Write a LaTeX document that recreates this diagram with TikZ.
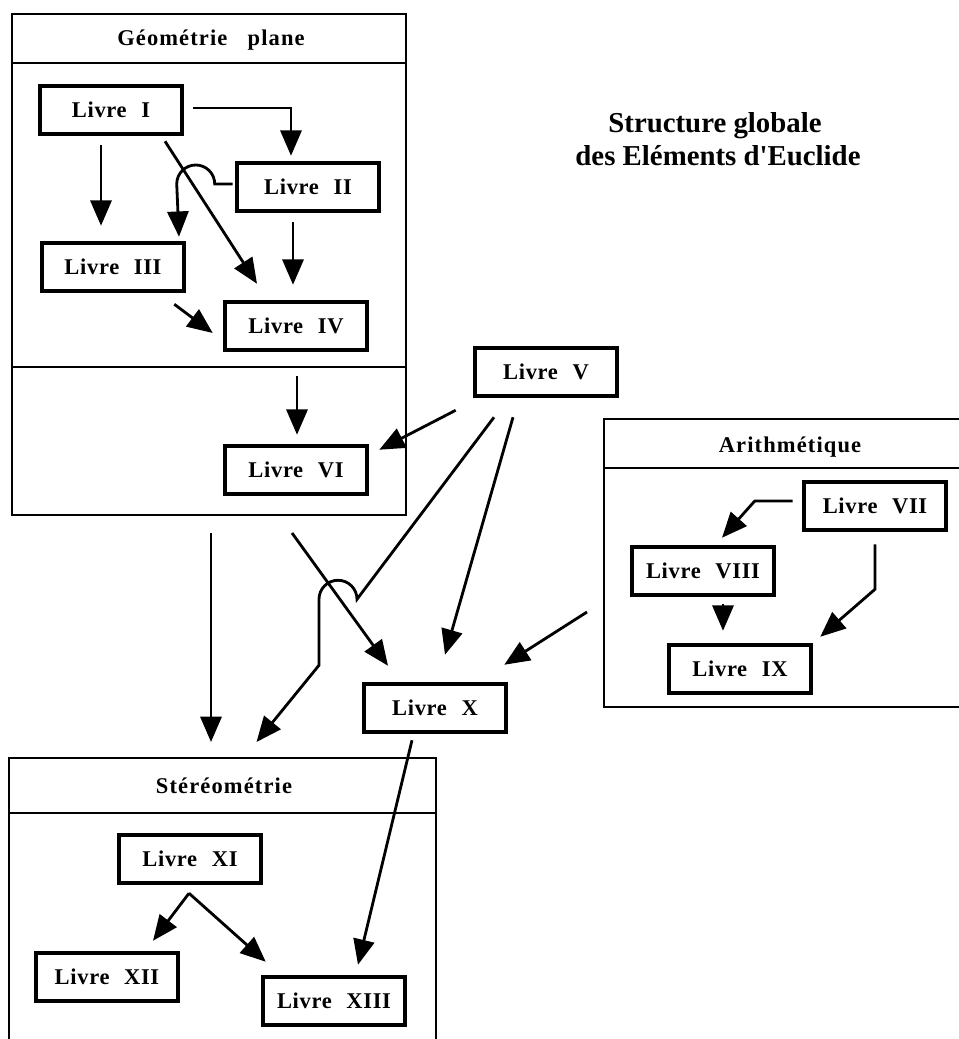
\documentclass[tikz,border=0pt]{standalone}
\usepackage{fontspec}
\setmainfont{Liberation Serif}
\usetikzlibrary{arrows.meta,calc,fit}

\begin{document}
\begin{tikzpicture}[x=0.025cm,y=-0.025cm,
  livre/.style={draw,line width=3.2pt,minimum width=3.55cm,minimum height=1.2cm,inner sep=0pt,
    font=\bfseries\fontsize{16}{19}\selectfont\addfontfeatures{LetterSpace=3}},
  part/.style={draw,line width=1.4pt,inner sep=0pt},
  parttitle/.style={font=\bfseries\fontsize{16}{19}\selectfont\addfontfeatures{LetterSpace=5}},
  link/.style={line width=2pt,-{Triangle[length=18pt,width=15pt]}},
  divline/.style={line width=1.4pt}]
\useasboundingbox (0,0) rectangle (959,1039);
\clip (0,0) rectangle (959,1039);

% Title
\node[anchor=base,font=\bfseries\fontsize{20.5}{24}\selectfont] (title1) at (715,132) {Structure globale};
\node[anchor=base,font=\bfseries\fontsize{20.5}{24}\selectfont] (title2) at (718,165) {des Eléments d\textquotesingle Euclide};

% Geometrie plane
\node[part,fit={(12,14) (406,515)}] (geo) {};
\draw[divline] (geo.west |- 0,63) -- (geo.east |- 0,63);
\coordinate (gdiv) at (12,367);
\draw[divline] (gdiv) -- (gdiv -| geo.east);
\node[parttitle] (hgeo) at (211,40) {Géométrie\hspace{0.9em}plane};
\node[livre] (g1) at (111,110) {Livre\hspace{0.65em}I};
\node[livre] (g2) at (308,187) {Livre\hspace{0.65em}II};
\node[livre] (g3) at (113,267) {Livre\hspace{0.65em}III};
\node[livre] (g4) at (296,326) {Livre\hspace{0.65em}IV};
\node[livre] (g6) at (296,470) {Livre\hspace{0.65em}VI};

% Livre V and Livre X
\node[livre] (b5) at (546,372) {Livre\hspace{0.65em}V};
\node[livre] (b10) at (435,708) {Livre\hspace{0.65em}X};

% Arithmetique
\node[part,fit={(604,419) (1000,707)}] (ari) {};
\draw[divline] (ari.west |- 0,468) -- (ari.east |- 0,468);
\node[parttitle] (hari) at (790,447) {Arithmétique};
\node[livre] (a7) at (875,506) {Livre\hspace{0.65em}VII};
\node[livre] (a8) at (703,571) {Livre\hspace{0.65em}VIII};
\node[livre] (a9) at (740,669) {Livre\hspace{0.65em}IX};

% Stereometrie
\node[part,fit={(9,758) (436,1080)}] (ste) {};
\draw[divline] (ste.west |- 0,813) -- (ste.east |- 0,813);
\node[parttitle] (hste) at (224,786) {Stéréométrie};
\node[livre] (s11) at (190,859) {Livre\hspace{0.65em}XI};
\node[livre] (s12) at (107,977) {Livre\hspace{0.65em}XII};
\node[livre] (s13) at (334,1001) {Livre\hspace{0.65em}XIII};

% inside Geometrie plane
\draw[link] ($(g1.east)+(9,-2)$) -| ($(g2.north)+(-17,-5)$);
\draw[link] ($(g1.south)+(-10,9)$) -- ($(g3.north)+(-12,-15)$);
\draw[link] ($(g1.south)+(54,5)$) -- ($(g4.north)+(-39,-16)$);
\draw[link] ($(g2.west)+(-2,-3)$) -- ++(-18,0) arc[start angle=0,end angle=-180,radius=19]
  -- ($(g3.north)+(66,-4)$);
\draw[link] ($(g2.south)+(-15,9)$) -- ($(g4.north)+(-3,-15)$);
\draw[link] ($(g3.south east)+(-12,11)$) -- ($(g4.west)+(-10,7)$);
\draw[link] ($(gdiv -| g6.north)+(1,9)$) -- ($(g6.north)+(1,-9)$);

% from Livre V
\draw[link] ($(b5.south west)+(-17,12)$) -- ($(g6.north east)+(10,6)$);
\draw[link] ($(b5.south)+(-33,19)$) -- ($(b10.north)+(10,-27)$);
\draw[link] ($(b5.south)+(-52,19)$) -- ++(-137,182) arc[start angle=0,end angle=-180,radius=19]
  -- ++(0,66) -- ($(ste.north)+(34,-15)$);

% towards Livre X and Stereometrie
\draw[link] ($(geo.south)+(2,17)$) -- ($(geo.south |- ste.north)+(2,-15)$);
\draw[link] ($(geo.south)+(83,17)$) -- ($(b10.north)+(-47,-16)$);
\draw[link] ($(ari.west)+(-16,49)$) -- ($(b10.north east)+(-4,-17)$);
\draw[link] ($(b10.south)+(-23,6)$) -- ($(s13.north)+(24,-10)$);

% inside Arithmetique
\draw[link] ($(a7.west)+(-9,-5)$) -- ++(-38,0) -- ($(a8.north)+(19,-7)$);
\draw[link] ($(a7.south)+(0,12)$) -- ++(0,45) -- ($(a9.north east)+(7,-6)$);
\draw[link] ($(a8.south)+(20,7)$) -- ($(a9.north)+(-17,-12)$);

% inside Stereometrie
\draw[link] ($(s11.south)+(-1,8)$) -- ($(s12.north)+(46,-10)$);
\draw[link] ($(s11.south)+(-1,8)$) -- ($(s13.north west)+(5,-13)$);
\end{tikzpicture}
\end{document}
